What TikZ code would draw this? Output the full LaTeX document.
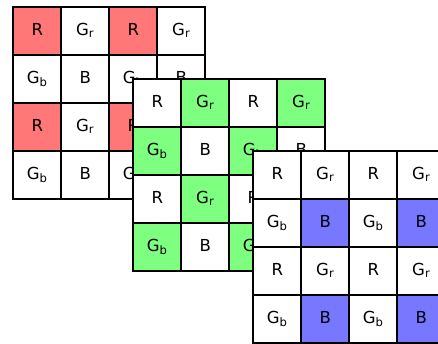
\documentclass[tikz,border=0pt]{standalone}
\usepackage{fontspec}
\setmainfont{DejaVu Sans}
\usepackage{tikz}
\definecolor{bayerR}{RGB}{255,119,119}
\definecolor{bayerG}{RGB}{127,255,127}
\definecolor{bayerB}{RGB}{119,119,255}
\tikzset{cell/.style={draw, line width=1.2pt, minimum size=1cm, inner sep=0pt,
  text height=7pt, text depth=2.4pt, font=\fontsize{9.8}{11}\selectfont}}
\newcommand*{\bayer}[6]{%
\begin{scope}[shift={(#1,#2)}]
\foreach \bx in {0,2} {
  \foreach \by in {0,2} {
    \node[cell, fill=#4] (#3-r-\bx-\by) at (\bx+0.5, -\by-0.5) {R};
    \node[cell, fill=#5] (#3-gr-\bx-\by) at (\bx+1.5, -\by-0.5) {G\textsubscript{r}};
    \node[cell, fill=#5] (#3-gb-\bx-\by) at (\bx+0.5, -\by-1.5) {G\textsubscript{b}};
    \node[cell, fill=#6] (#3-b-\bx-\by) at (\bx+1.5, -\by-1.5) {B};
  }
}
\end{scope}}

\begin{document}
\begin{tikzpicture}

\def\dx{2.5}
\def\dy{1.5}

\useasboundingbox (-0.279, -2.994) rectangle (8.846, 4.152);
\clip (-0.279, -2.994) rectangle (8.846, 4.152);

\bayer{0}{4}{red}{bayerR}{white}{white}
\bayer{\dx}{4-\dy}{green}{white}{bayerG}{white}
\bayer{2*\dx}{4-2*\dy}{blue}{white}{white}{bayerB}

\end{tikzpicture}
\end{document}
